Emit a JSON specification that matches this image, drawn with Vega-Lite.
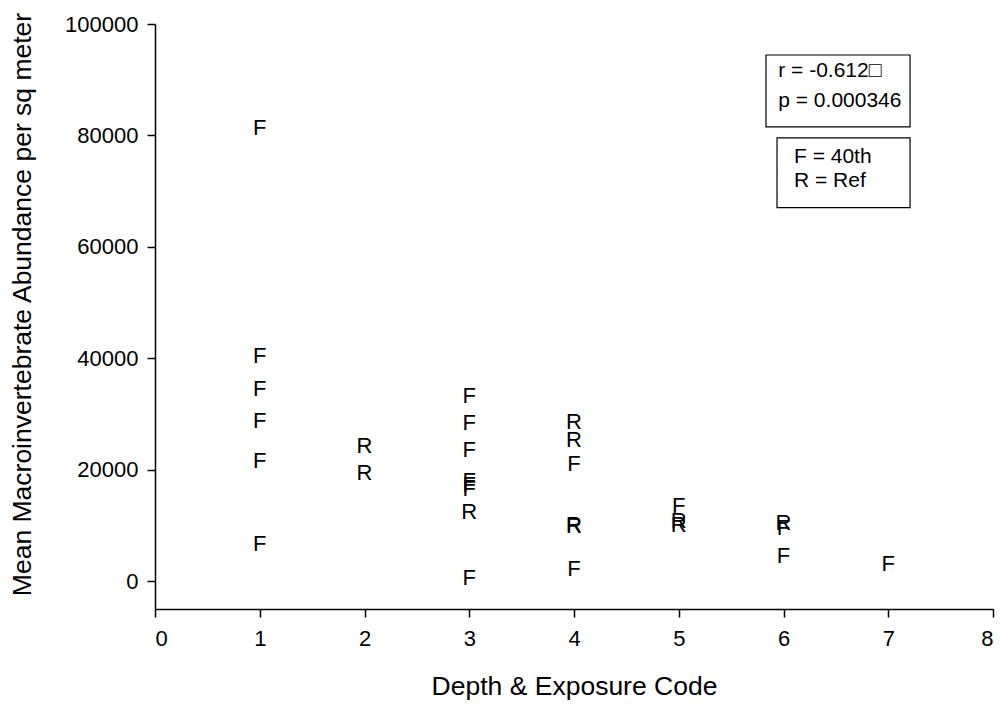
{
  "$schema": "https://vega.github.io/schema/vega-lite/v6.json",
  "width": 838,
  "height": 585,
  "autosize": {"type": "none"},
  "padding": {"left": 155, "top": 24, "right": 8, "bottom": 99},
  "background": "white",
  "config": {
    "view": {"stroke": null},
    "font": "Liberation Sans",
    "axis": {"grid": false, "domainColor": "black", "tickColor": "black", "labelColor": "black", "titleColor": "black", "labelFont": "Liberation Sans", "titleFont": "Liberation Sans", "titleFontWeight": "normal", "domainWidth": 1.5, "tickWidth": 1.5}
  },
  "datasets": {
    "pts": [
      {"code": 1, "abundance": 81400, "site": "F"},
      {"code": 1, "abundance": 40500, "site": "F"},
      {"code": 1, "abundance": 34400, "site": "F"},
      {"code": 1, "abundance": 28700, "site": "F"},
      {"code": 1, "abundance": 21500, "site": "F"},
      {"code": 1, "abundance": 6600, "site": "F"},
      {"code": 2, "abundance": 24200, "site": "R"},
      {"code": 2, "abundance": 19350, "site": "R"},
      {"code": 3, "abundance": 33300, "site": "F"},
      {"code": 3, "abundance": 28300, "site": "F"},
      {"code": 3, "abundance": 23500, "site": "F"},
      {"code": 3, "abundance": 18000, "site": "F"},
      {"code": 3, "abundance": 17300, "site": "F"},
      {"code": 3, "abundance": 16500, "site": "F"},
      {"code": 3, "abundance": 12400, "site": "R"},
      {"code": 3, "abundance": 500, "site": "F"},
      {"code": 4, "abundance": 28500, "site": "R"},
      {"code": 4, "abundance": 25400, "site": "R"},
      {"code": 4, "abundance": 21000, "site": "F"},
      {"code": 4, "abundance": 10100, "site": "R"},
      {"code": 4, "abundance": 9900, "site": "R"},
      {"code": 4, "abundance": 2150, "site": "F"},
      {"code": 5, "abundance": 13400, "site": "F"},
      {"code": 5, "abundance": 10800, "site": "R"},
      {"code": 5, "abundance": 10000, "site": "R"},
      {"code": 6, "abundance": 10400, "site": "R"},
      {"code": 6, "abundance": 9600, "site": "F"},
      {"code": 6, "abundance": 4600, "site": "F"},
      {"code": 7, "abundance": 3000, "site": "F"}
    ],
    "boxes": [
      {"x1": 5.833, "x2": 7.208, "y1": 81540, "y2": 94440},
      {"x1": 5.938, "x2": 7.208, "y1": 67030, "y2": 79570}
    ],
    "notes": [
      {"x": 5.95, "y": 91600, "label": "r = -0.612□"},
      {"x": 5.95, "y": 86200, "label": "p = 0.000346"},
      {"x": 6.1, "y": 76200, "label": "F = 40th"},
      {"x": 6.1, "y": 71900, "label": "R = Ref"}
    ]
  },
  "layer": [
    {
      "data": {"name": "boxes"},
      "mark": {"type": "rect", "fill": "white", "stroke": "black", "strokeWidth": 1.2},
      "encoding": {
        "x": {"field": "x1", "type": "quantitative", "scale": {"domain": [0, 8], "nice": false}},
        "x2": {"field": "x2"},
        "y": {"field": "y1", "type": "quantitative", "scale": {"domain": [-5000, 100000], "nice": false}},
        "y2": {"field": "y2"}
      }
    },
    {
      "data": {"name": "notes"},
      "mark": {"type": "text", "align": "left", "baseline": "middle", "fontSize": 21, "color": "black", "font": "Liberation Sans"},
      "encoding": {
        "x": {"field": "x", "type": "quantitative"},
        "y": {"field": "y", "type": "quantitative"},
        "text": {"field": "label"}
      }
    },
    {
      "data": {"name": "pts"},
      "mark": {"type": "text", "align": "center", "baseline": "middle", "fontSize": 22, "color": "black", "font": "Liberation Sans"},
      "encoding": {
        "x": {
          "field": "code", "type": "quantitative",
          "scale": {"domain": [0, 8], "nice": false},
          "axis": {"title": "Depth & Exposure Code", "values": [0,1,2,3,4,5,6,7,8], "format": "d", "labelFontSize": 22, "titleFontSize": 26.5, "tickSize": 8, "labelPadding": 11, "titlePadding": 24}
        },
        "y": {
          "field": "abundance", "type": "quantitative",
          "scale": {"domain": [-5000, 100000], "nice": false},
          "axis": {"title": "Mean Macroinvertebrate Abundance per sq meter", "values": [0, 20000, 40000, 60000, 80000, 100000], "format": "d", "labelFontSize": 22, "titleFontSize": 26.5, "tickSize": 8, "labelPadding": 9, "titlePadding": 28, "titleY": 280}
        },
        "text": {"field": "site"}
      }
    }
  ]
}
